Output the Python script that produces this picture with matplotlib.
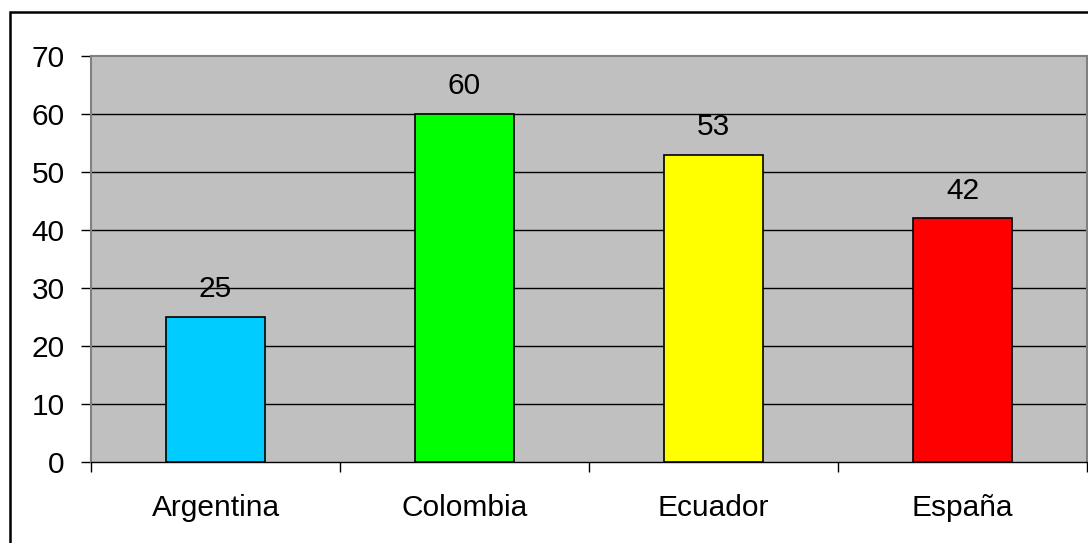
import matplotlib
matplotlib.use("Agg")
import matplotlib.pyplot as plt
from matplotlib.patches import Rectangle

categories = ["Argentina", "Colombia", "Ecuador", "España"]
values = [25, 60, 53, 42]
colors = ["#00CCFF", "#00FF00", "#FFFF00", "#FF0000"]
yticks = [0, 10, 20, 30, 40, 50, 60, 70]

plt.rcParams['font.family'] = ['Liberation Sans', 'DejaVu Sans']

W, H = 1088, 543
fig = plt.figure(figsize=(W / 100, H / 100), dpi=100)
ax = fig.add_axes([91 / W, 1 - 462 / H, 996 / W, (462 - 56) / H])
ax.set_facecolor("#C0C0C0")

x = list(range(len(categories)))
ax.bar(x, values, width=0.4, color=colors, edgecolor="black", linewidth=1.2, zorder=3)

for xi, v in zip(x, values):
    ax.annotate(str(v), (xi, v), xytext=(0, 10), textcoords="offset points",
                ha="center", va="bottom", fontsize=21.5, color="black", zorder=4)

ax.set_ylim(0, 70)
ax.set_xlim(-0.5, len(categories) - 0.5)
ax.set_yticks(yticks)
ax.set_yticklabels([str(t) for t in yticks], fontsize=21.5)
for t in yticks[1:-1]:
    ax.axhline(t, color="black", linewidth=1.0, zorder=1)

ax.set_xticks([i - 0.5 for i in range(len(categories) + 1)])
ax.set_xticklabels([])
ax.set_xticks(x, minor=True)
ax.set_xticklabels(categories, minor=True, fontsize=21.5)
ax.tick_params(axis="x", which="minor", length=0, pad=23)
ax.tick_params(axis="x", which="major", length=7, width=1, color="black", direction="out")
ax.tick_params(axis="y", length=7, width=1, color="black", direction="out", pad=12)

for side in ["top", "left", "right"]:
    ax.spines[side].set_color("#808080")
    ax.spines[side].set_linewidth(1.5)
ax.spines["bottom"].set_color("black")
ax.spines["bottom"].set_linewidth(1.0)

fig.patches.append(Rectangle((9.5 / W, -0.1), 1.2, 1 - 12.5 / H + 0.1,
                             transform=fig.transFigure, fill=False,
                             edgecolor="black", linewidth=1.8))

fig.savefig("out.png", dpi=100, facecolor="white")
